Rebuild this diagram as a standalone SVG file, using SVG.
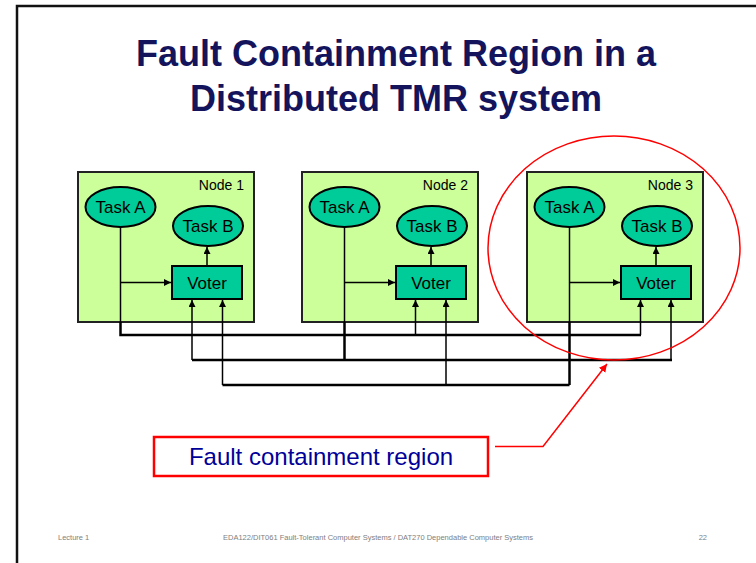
<svg xmlns="http://www.w3.org/2000/svg" width="756" height="563" viewBox="0 0 756 563">
  <style>
    .frame { fill: none; stroke: #111; stroke-width: 2.5; }
    .title { font-family: "Liberation Sans", Arial, sans-serif; font-weight: bold; font-size: 36px; fill: #14145c; text-anchor: middle; }
    .box { fill: #ccff99; stroke: #222; stroke-width: 2; }
    .task { fill: #00cc99; stroke: #000; stroke-width: 2; }
    .lbl { font-family: "Liberation Sans", Arial, sans-serif; font-size: 17px; fill: #000; text-anchor: middle; }
    .nodelbl { font-family: "Liberation Sans", Arial, sans-serif; font-size: 14px; fill: #000; text-anchor: end; }
    .thin { fill: none; stroke: #000; stroke-width: 1.5; }
    .bus { fill: none; stroke: #000; stroke-width: 2.5; }
    .red { fill: none; stroke: #ff0000; stroke-width: 1.5; }
    .regionbox { fill: #fff; stroke: #ff0000; stroke-width: 2.5; }
    .regiontxt { font-family: "Liberation Sans", Arial, sans-serif; font-size: 24px; fill: #000099; text-anchor: middle; }
    .foot { font-family: "Liberation Sans", Arial, sans-serif; font-size: 7.5px; fill: #808080; }
  </style>
  <defs>
    <marker id="arr" markerUnits="userSpaceOnUse" markerWidth="8" markerHeight="8" refX="7" refY="3.5" orient="auto">
      <path d="M0,0 L7,3.5 L0,7 z" fill="#000"/>
    </marker>
    <marker id="arrRed" markerUnits="userSpaceOnUse" markerWidth="10" markerHeight="10" refX="8" refY="4" orient="auto">
      <path d="M0,0 L8,4 L0,8 z" fill="#ff0000"/>
    </marker>
  </defs>

  <rect width="756" height="563" fill="#fff"/>
  <!-- slide frame -->
  <path class="frame" d="M17,563 V6 H756"/>

  <!-- title -->
  <g id="title">
    <text class="title" x="396" y="66">Fault Containment Region in a</text>
    <text class="title" x="396" y="111">Distributed TMR system</text>
  </g>

  <!-- nodes -->
  <g id="node1">
    <rect class="box" x="78" y="172" width="176" height="150"/>
    <text class="nodelbl" x="244" y="190">Node 1</text>
    <ellipse class="task" cx="120.5" cy="207" rx="35" ry="20"/>
    <text class="lbl" x="120.5" y="213">Task A</text>
    <ellipse class="task" cx="208" cy="226" rx="35" ry="20"/>
    <text class="lbl" x="208" y="232">Task B</text>
    <rect class="task" x="172" y="266" width="70" height="33"/>
    <text class="lbl" x="207" y="288.5">Voter</text>
  </g>
  <g id="node2">
    <rect class="box" x="302" y="172" width="176" height="150"/>
    <text class="nodelbl" x="468" y="190">Node 2</text>
    <ellipse class="task" cx="344.5" cy="207" rx="35" ry="20"/>
    <text class="lbl" x="344.5" y="213">Task A</text>
    <ellipse class="task" cx="432" cy="226" rx="35" ry="20"/>
    <text class="lbl" x="432" y="232">Task B</text>
    <rect class="task" x="396" y="266" width="70" height="33"/>
    <text class="lbl" x="431" y="288.5">Voter</text>
  </g>
  <g id="node3">
    <rect class="box" x="527" y="172" width="176" height="150"/>
    <text class="nodelbl" x="693" y="190">Node 3</text>
    <ellipse class="task" cx="569.5" cy="207" rx="35" ry="20"/>
    <text class="lbl" x="569.5" y="213">Task A</text>
    <ellipse class="task" cx="657" cy="226" rx="35" ry="20"/>
    <text class="lbl" x="657" y="232">Task B</text>
    <rect class="task" x="621" y="266" width="70" height="33"/>
    <text class="lbl" x="656" y="288.5">Voter</text>
  </g>

  <!-- connectors -->
  <g id="connectors">
    <!-- inside each node: task A to voter, voter to task B -->
    <path class="thin" d="M120.5,227 V322"/>
    <path class="thin" d="M120.5,282.5 H171" marker-end="url(#arr)"/>
    <path class="thin" d="M207,266 V247" marker-end="url(#arr)"/>
    <path class="thin" d="M344.5,227 V322"/>
    <path class="thin" d="M344.5,282.5 H395" marker-end="url(#arr)"/>
    <path class="thin" d="M431,266 V247" marker-end="url(#arr)"/>
    <path class="thin" d="M569.5,227 V322"/>
    <path class="thin" d="M569.5,282.5 H620" marker-end="url(#arr)"/>
    <path class="thin" d="M656,266 V247" marker-end="url(#arr)"/>

    <!-- bus lines between nodes -->
    <path class="bus" d="M120.5,322 V335 H641"/>
    <path class="bus" d="M344.5,322 V360"/>
    <path class="bus" d="M192,360 H672"/>
    <path class="bus" d="M569.5,322 V385"/>
    <path class="bus" d="M222.5,385 H569.5"/>

    <!-- voter inputs -->
    <path class="thin" d="M192,360 V300" marker-end="url(#arr)"/>
    <path class="thin" d="M222.5,385 V300" marker-end="url(#arr)"/>
    <path class="thin" d="M415.5,335 V300" marker-end="url(#arr)"/>
    <path class="thin" d="M446,385 V300" marker-end="url(#arr)"/>
    <path class="thin" d="M640.5,335 V300" marker-end="url(#arr)"/>
    <path class="thin" d="M671,360 V300" marker-end="url(#arr)"/>
  </g>

  <!-- fault containment region -->
  <g id="region">
    <ellipse class="red" cx="614" cy="248" rx="126" ry="112"/>
    <path class="red" d="M495,446.5 H543 L607,364" marker-end="url(#arrRed)"/>
    <rect class="regionbox" x="154" y="437" width="334" height="39"/>
    <text class="regiontxt" x="321" y="465">Fault containment region</text>
  </g>

  <!-- footer -->
  <g id="footer">
    <text class="foot" x="58" y="540">Lecture 1</text>
    <text class="foot" x="378" y="540" text-anchor="middle">EDA122/DIT061 Fault-Tolerant Computer Systems / DAT270 Dependable Computer Systems</text>
    <text class="foot" x="707" y="540" text-anchor="end">22</text>
  </g>
</svg>
